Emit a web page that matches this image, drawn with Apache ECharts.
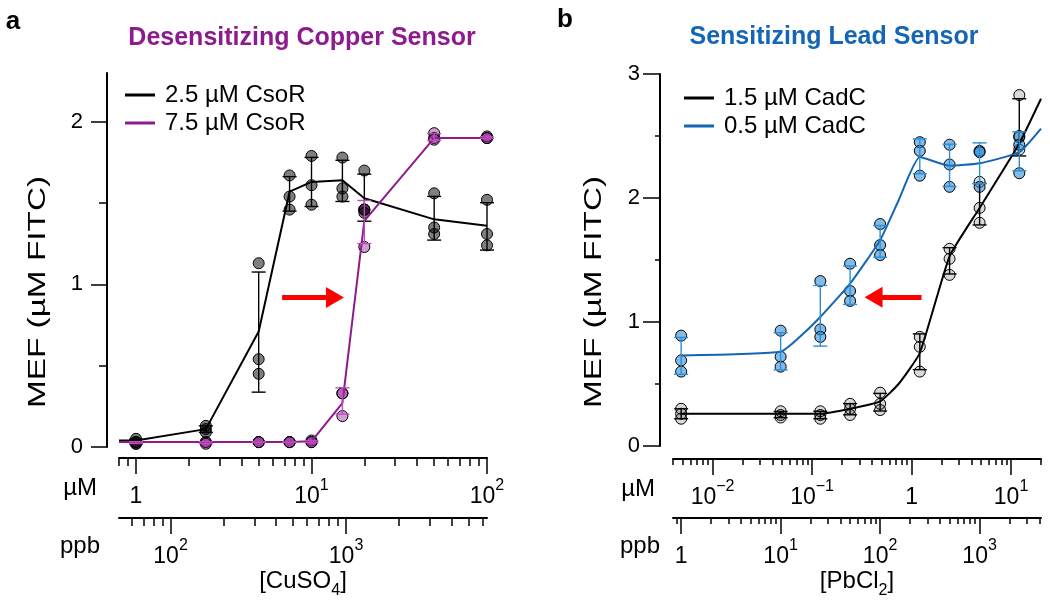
<!DOCTYPE html>
<html><head><meta charset="utf-8">
<script src="https://cdn.jsdelivr.net/npm/echarts@6/dist/echarts.min.js"></script>
<style>html,body{margin:0;padding:0;background:#fff}#c{width:1050px;height:602px}</style>
</head><body><div id="c"></div>
<script>
const FONT = "'Liberation Sans', Arial, Helvetica, sans-serif";

// ---------- Panel a: copper sensor ----------
const cuConc = [1, 2.5, 5, 7.5, 10, 15, 20, 50, 100];          // µM CuSO4
const csor25Reps = [[0.05,0.03,0.02],[0.13,0.11,0.09],[1.13,0.54,0.45],[1.67,1.54,1.46],[1.79,1.61,1.49],[1.78,1.59,1.54],[1.70,1.46,1.44],[1.56,1.35,1.31],[1.52,1.31,1.24]];
const csor75Reps = [[0.03,0.03,0.02],[0.03,0.03,0.02],[0.03,0.03,0.03],[0.03,0.03,0.03],[0.04,0.03,0.03],[0.33,0.33,0.19],[1.46,1.46,1.23],[1.93,1.90,1.89],[1.91,1.90,1.90]];
const cuLineX = [0.8, 1, 2.5, 5, 7.5, 10, 15, 20, 50, 100];
const csor25Line = [0.04, 0.04, 0.11, 0.71, 1.57, 1.63, 1.64, 1.53, 1.40, 1.36];
const csor75Line = [0.03, 0.03, 0.03, 0.03, 0.03, 0.035, 0.27, 1.39, 1.90, 1.90];
const cuRange = [0.8, 100];                 // µM axis extent
const CU_PPB_PER_UM = 63.55;                // ppb per µM (Cu)
const cuUmMajor = [1, 10, 100];
const cuUmMinor = [0.8, 0.9, 2,3,4,5,6,7,8,9, 20,30,40,50,60,70,80,90];
const cuPpbMajor = [100, 1000];
const cuPpbMinor = [60,70,80,90, 200,300,400,500,600,700,800,900, 2000,3000,4000,5000,6000];
const aYMajor = [0, 1, 2];
const aYMinor = [0.5, 1.5];

// ---------- Panel b: lead sensor ----------
const pbConc = [0.00483, 0.0483, 0.121, 0.241, 0.483, 1.21, 2.41, 4.83, 12.1];   // µM PbCl2
const cadc15Reps = [[0.30,0.26,0.22],[0.28,0.25,0.23],[0.28,0.25,0.22],[0.34,0.30,0.25],[0.43,0.34,0.29],[0.88,0.80,0.60],[1.59,1.51,1.38],[2.13,1.92,1.80],[2.83,2.49,2.39]];
const cadc05Reps = [[0.89,0.69,0.60],[0.93,0.72,0.64],[1.33,0.94,0.88],[1.47,1.25,1.17],[1.79,1.62,1.54],[2.45,2.38,2.18],[2.43,2.27,2.09],[2.38,2.37,2.09],[2.50,2.43,2.20]];
const pbLineX    = [0.00483, 0.0483, 0.073, 0.121, 0.241, 0.483, 0.74, 1.21, 2.41, 4.83, 12.1, 20];
const cadc15Line = [0.26,    0.26,   0.26,  0.26,  0.30,  0.36,  0.50, 0.75, 1.53, 1.92, 2.44, 2.80];
const cadc05Line = [0.73,    0.76,   0.87,  1.04,  1.31,  1.66,  1.98, 2.33, 2.26, 2.28, 2.37, 2.56];
const pbRange = [0.004, 20];
const PB_PPB_PER_UM = 207.2;
const pbUmMajor = [0.01, 0.1, 1, 10];
const pbUmMinor = [0.004,0.005,0.006,0.007,0.008,0.009, 0.02,0.03,0.04,0.05,0.06,0.07,0.08,0.09, 0.2,0.3,0.4,0.5,0.6,0.7,0.8,0.9, 2,3,4,5,6,7,8,9, 20];
const pbPpbMajor = [1, 10, 100, 1000];
const pbPpbMinor = [0.9, 2,3,4,5,6,7,8,9, 20,30,40,50,60,70,80,90, 200,300,400,500,600,700,800,900, 2000,3000,4000];
const bYMajor = [0, 1, 2, 3];
const bYMinor = [0.5, 1.5, 2.5];

// arrows (data coords: tail, head)
const arrowA = [[6.8, 0.92], [13.6, 0.92]];
const arrowB = [[1.26, 1.20], [0.415, 1.20]];

// ---------- helpers ----------
function pts(xs, reps) { const o = []; xs.forEach((x, i) => reps[i].forEach(y => o.push([x, y]))); return o; }
function bars(xs, reps) {
  return xs.map((x, i) => {
    const r = reps[i], m = r.reduce((a, b) => a + b, 0) / r.length;
    const sd = Math.sqrt(r.reduce((a, b) => a + (b - m) * (b - m), 0) / (r.length - 1));
    return [x, m - sd, m + sd];
  });
}
function zip(xs, ys) { return xs.map((x, i) => [x, ys[i]]); }

const rich = {
  b: { fontSize: 23, fontFamily: FONT, color: '#000', lineHeight: 30, verticalAlign: 'bottom' },
  s: { fontSize: 16, fontFamily: FONT, color: '#000', lineHeight: 10, verticalAlign: 'top' }
};
function logFmt(v) {
  const e = Math.round(Math.log10(v));
  if (e === 0) return '{b|1}';
  return '{b|10}{s|' + (e < 0 ? '\u2212' + (-e) : e) + '}';
}

function xAx(gi, range, offset, ticks, len, showLabels, showLine, extra) {
  const ax = {
    type: 'log', logBase: 10, gridIndex: gi, min: range[0], max: range[1],
    position: 'bottom', offset: offset,
    axisLine: { show: showLine, onZero: false, lineStyle: { color: '#000', width: 2 } },
    axisTick: { show: true, inside: false, length: len, customValues: ticks, lineStyle: { color: '#000', width: 1.5 } },
    axisLabel: showLabels ? { show: true, customValues: ticks, margin: 20, formatter: logFmt, rich: rich, color: '#000' } : { show: false },
    splitLine: { show: false }, minorTick: { show: false }, minorSplitLine: { show: false }
  };
  return Object.assign(ax, extra || {});
}
function yAx(gi, max, offset, ticks, len, showLabels, showLine, margin) {
  return {
    type: 'value', gridIndex: gi, min: 0, max: max, position: 'left', offset: offset,
    axisLine: { show: showLine, onZero: false, lineStyle: { color: '#000', width: 2 } },
    axisTick: { show: true, inside: false, length: len, customValues: ticks, lineStyle: { color: '#000', width: 1.5 } },
    axisLabel: showLabels ? { show: true, customValues: ticks, margin: margin, fontSize: 22, fontFamily: FONT, color: '#000' } : { show: false },
    splitLine: { show: false }, minorTick: { show: false }
  };
}
function unitName(txt, gap, pad) {
  return { name: txt, nameLocation: 'start', nameGap: gap, nameMoveOverlap: false,
    nameTextStyle: { fontSize: 24, fontFamily: FONT, color: '#000', verticalAlign: 'top', padding: [pad, 0, 0, 0] } };
}
function concName(txt, gap) {
  return { name: txt, nameLocation: 'middle', nameGap: gap, nameMoveOverlap: false,
    nameTextStyle: { fontSize: 24, fontFamily: FONT, color: '#000',
      rich: { n: { fontSize: 24, fontFamily: FONT, color: '#000', lineHeight: 30, verticalAlign: 'top' },
              sub: { fontSize: 16, fontFamily: FONT, color: '#000', lineHeight: 18, verticalAlign: 'bottom' } } } };
}

function errRender(color, capW) {
  return function (params, api) {
    const x = api.value(0), lo = api.value(1), hi = api.value(2);
    const a = api.coord([x, lo]), b = api.coord([x, hi]);
    const h = capW / 2, st = { stroke: color, lineWidth: 1.4 };
    return { type: 'group', children: [
      { type: 'line', shape: { x1: a[0], y1: a[1], x2: b[0], y2: b[1] }, style: st },
      { type: 'line', shape: { x1: a[0] - h, y1: a[1], x2: a[0] + h, y2: a[1] }, style: st },
      { type: 'line', shape: { x1: b[0] - h, y1: b[1], x2: b[0] + h, y2: b[1] }, style: st }
    ] };
  };
}
function scatter(xi, yi, data, fill) {
  return { type: 'scatter', xAxisIndex: xi, yAxisIndex: yi, data: data, symbol: 'circle', symbolSize: 11, clip: false,
    itemStyle: { color: fill, borderColor: '#000', borderWidth: 1, opacity: 1 }, silent: true, z: 2 };
}
function line(name, xi, yi, data, color, smooth) {
  return { type: 'line', name: name, xAxisIndex: xi, yAxisIndex: yi, data: data, color: color, showSymbol: false, symbol: 'none',
    smooth: smooth, clip: false, lineStyle: { color: color, width: 2 }, itemStyle: { color: color }, z: 3, silent: true };
}
function errSeries(xi, yi, data, color) {
  return { type: 'custom', xAxisIndex: xi, yAxisIndex: yi, data: data, renderItem: errRender(color, 14),
    encode: { x: 0, y: [1, 2] }, clip: false, z: 4, silent: true };
}
function arrowSeries(xi, yi, seg) {
  return { type: 'line', xAxisIndex: xi, yAxisIndex: yi, data: [], silent: true,
    markLine: { silent: true, animation: false, symbol: ['none', 'triangle'], symbolSize: [21, 18],
      lineStyle: { color: '#ff0000', width: 5, type: 'solid' }, label: { show: false },
      emphasis: { disabled: true },
      data: [[{ coord: seg[0] }, { coord: seg[1] }]] } };
}
function yTitle(x, y) {
  return { type: 'text', x: x, y: y, rotation: Math.PI / 2, scaleX: 1.45, scaleY: 1,
    style: { text: 'MEF (µM FITC)', font: '23px ' + FONT, fill: '#000', align: 'center', verticalAlign: 'middle', textAlign: 'center', textVerticalAlign: 'middle' } };
}

const PURPLE = '#8E1B8E', BLUE = '#1565B5';

const option = {
  animation: false,
  backgroundColor: '#fff',
  grid: [
    { left: 119, top: 73, width: 368, height: 374, outerBoundsMode: 'none', containLabel: false },
    { left: 673, top: 74, width: 368, height: 372, outerBoundsMode: 'none', containLabel: false }
  ],
  xAxis: [
    xAx(0, cuRange, 11, cuUmMajor, 16, true, true, unitName('µM', 22, 18)),
    xAx(0, cuRange, 11, cuUmMinor, 8, false, false),
    xAx(0, [cuRange[0] * CU_PPB_PER_UM, cuRange[1] * CU_PPB_PER_UM], 71, cuPpbMajor, 16, true, true, unitName('ppb', 19, 16)),
    xAx(0, [cuRange[0] * CU_PPB_PER_UM, cuRange[1] * CU_PPB_PER_UM], 71, cuPpbMinor, 8, false, false,
      concName('{n|[CuSO}{sub|4}{n|]}', 51)),
    xAx(1, pbRange, 13, pbUmMajor, 16, true, true, unitName('µM', 18, 18)),
    xAx(1, pbRange, 13, pbUmMinor, 6, false, false),
    xAx(1, [pbRange[0] * PB_PPB_PER_UM, pbRange[1] * PB_PPB_PER_UM], 72, pbPpbMajor, 16, true, true, unitName('ppb', 13, 16)),
    xAx(1, [pbRange[0] * PB_PPB_PER_UM, pbRange[1] * PB_PPB_PER_UM], 72, pbPpbMinor, 6, false, false,
      concName('{n|[PbCl}{sub|2}{n|]}', 51))
  ],
  yAxis: [
    yAx(0, 2.3, 12, aYMajor, 16, true, true, 24),
    yAx(0, 2.3, 12, aYMinor, 8, false, false, 0),
    yAx(1, 3, 13, bYMajor, 17, true, true, 20),
    yAx(1, 3, 13, bYMinor, 5, false, false, 0)
  ],
  legend: [
    { data: ['2.5 µM CsoR', '7.5 µM CsoR'], left: 120, top: 78, orient: 'vertical', icon: 'rect', itemWidth: 30, itemHeight: 3,
      itemGap: 4, selectedMode: false, textStyle: { fontSize: 24, fontFamily: FONT, color: '#000', padding: [0, 0, 0, 5] } },
    { data: ['1.5 µM CadC', '0.5 µM CadC'], left: 679, top: 81, orient: 'vertical', icon: 'rect', itemWidth: 30, itemHeight: 3,
      itemGap: 4, selectedMode: false, textStyle: { fontSize: 24, fontFamily: FONT, color: '#000', padding: [0, 0, 0, 5] } }
  ],
  graphic: [
    { type: 'text', x: 13, y: 22, style: { text: 'a', font: 'bold 26px ' + FONT, fill: '#000', align: 'center', verticalAlign: 'middle', textAlign: 'center', textVerticalAlign: 'middle' } },
    { type: 'text', x: 302, y: 38, style: { text: 'Desensitizing Copper Sensor', font: 'bold 25px ' + FONT, fill: PURPLE, align: 'center', verticalAlign: 'middle', textAlign: 'center', textVerticalAlign: 'middle' } },
    { type: 'text', x: 565, y: 20, style: { text: 'b', font: 'bold 26px ' + FONT, fill: '#000', align: 'center', verticalAlign: 'middle', textAlign: 'center', textVerticalAlign: 'middle' } },
    { type: 'text', x: 834, y: 37, style: { text: 'Sensitizing Lead Sensor', font: 'bold 25px ' + FONT, fill: BLUE, align: 'center', verticalAlign: 'middle', textAlign: 'center', textVerticalAlign: 'middle' } },
    yTitle(39, 292),
    yTitle(595, 292)
  ],
  series: [
    // panel a
    scatter(0, 0, pts(cuConc, csor75Reps), 'rgba(140,26,140,0.42)'),
    scatter(0, 0, pts(cuConc, csor25Reps), 'rgba(0,0,0,0.5)'),
    line('2.5 µM CsoR', 0, 0, zip(cuLineX, csor25Line), '#000', false),
    line('7.5 µM CsoR', 0, 0, zip(cuLineX, csor75Line), PURPLE, false),
    errSeries(0, 0, bars(cuConc, csor25Reps), '#000'),
    errSeries(0, 0, bars(cuConc, csor75Reps), '#c04cc0'),
    arrowSeries(0, 0, arrowA),
    // panel b
    scatter(4, 2, pts(pbConc, cadc15Reps), 'rgba(0,0,0,0.15)'),
    scatter(4, 2, pts(pbConc, cadc05Reps), 'rgba(30,130,210,0.55)'),
    line('1.5 µM CadC', 4, 2, zip(pbLineX, cadc15Line), '#000', 0.15),
    line('0.5 µM CadC', 4, 2, zip(pbLineX, cadc05Line), BLUE, 0.15),
    errSeries(4, 2, bars(pbConc, cadc15Reps), '#000'),
    errSeries(4, 2, bars(pbConc, cadc05Reps), '#2a8fd6'),
    arrowSeries(4, 2, arrowB)
  ]
};

const chart = echarts.init(document.getElementById('c'), null, { renderer: 'canvas' });
chart.setOption(option);
</script></body></html>
